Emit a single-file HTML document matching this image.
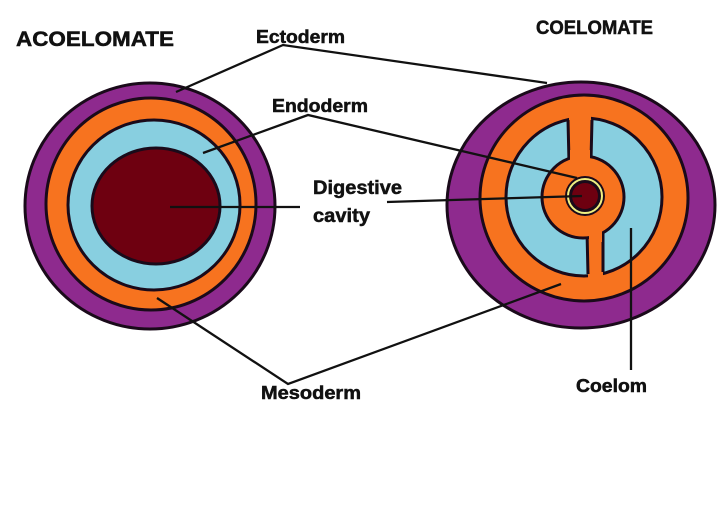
<!DOCTYPE html>
<html><head><meta charset="utf-8"><style>
html,body{margin:0;padding:0;background:#fff;}
svg{display:block}
text{font-family:"Liberation Sans",sans-serif;font-weight:bold;fill:#111;stroke:#111;stroke-width:0.5;}
</style></head><body>
<svg width="720" height="511" viewBox="0 0 720 511" xmlns="http://www.w3.org/2000/svg">
<rect width="720" height="511" fill="#fff"/>
<g stroke="#1a0a1a" stroke-width="3">
<ellipse cx="150" cy="206" rx="125" ry="123" fill="#8e2a8e"/>
<ellipse cx="151" cy="204" rx="105" ry="106" fill="#f7731f"/>
<ellipse cx="154" cy="205" rx="86" ry="85" fill="#88cfe0"/>
<ellipse cx="156" cy="206" rx="64" ry="58" fill="#6e0010"/>
<ellipse cx="581" cy="205" rx="134" ry="123" fill="#8e2a8e"/>
<ellipse cx="584" cy="198" rx="104" ry="103" fill="#f7731f"/>
<ellipse cx="584" cy="197" rx="78" ry="79" fill="#88cfe0"/>
</g>
<rect x="569" y="115" width="22" height="50" fill="#f7731f"/>
<rect x="588" y="230" width="15" height="48" fill="#f7731f"/>
<g stroke="#1a0a1a" stroke-width="3" fill="none">
<path d="M568 120 L569 162 M592 120 L591 160 M587 232 L588 274 M603 232 L603 272"/>
</g>
<circle cx="583" cy="197" r="41" fill="#f7731f" stroke="#1a0a1a" stroke-width="3"/>
<rect x="570" y="150" width="20" height="12" fill="#f7731f"/>
<rect x="589" y="230" width="13" height="12" fill="#f7731f"/>
<circle cx="585" cy="196" r="20" fill="#1a0a1a"/>
<circle cx="585" cy="196" r="17" fill="none" stroke="#f0f080" stroke-width="2"/>
<circle cx="585" cy="196" r="13" fill="#6e0010"/>
<g stroke="#111" stroke-width="2.3" fill="none">
<path d="M176 92 L283 45 L547 83"/>
<path d="M203 153 L308 115 L577 178"/>
<path d="M170 207 L300 207"/>
<path d="M387 202 L582 196"/>
<path d="M157 298 L288 384 L561 284"/>
<path d="M631 228 L631 370"/>
</g>
<text x="16" y="46" font-size="21" textLength="158" lengthAdjust="spacingAndGlyphs">ACOELOMATE</text>
<text x="536" y="34" font-size="19" textLength="117" lengthAdjust="spacingAndGlyphs">COELOMATE</text>
<text x="256" y="43" font-size="18" textLength="89" lengthAdjust="spacingAndGlyphs">Ectoderm</text>
<text x="272" y="112" font-size="18" textLength="96" lengthAdjust="spacingAndGlyphs">Endoderm</text>
<text x="313" y="194" font-size="19" textLength="89" lengthAdjust="spacingAndGlyphs">Digestive</text>
<text x="313" y="222" font-size="19" textLength="57" lengthAdjust="spacingAndGlyphs">cavity</text>
<text x="261" y="399" font-size="18" textLength="100" lengthAdjust="spacingAndGlyphs">Mesoderm</text>
<text x="576" y="392" font-size="18" textLength="71" lengthAdjust="spacingAndGlyphs">Coelom</text>
</svg>
</body></html>
